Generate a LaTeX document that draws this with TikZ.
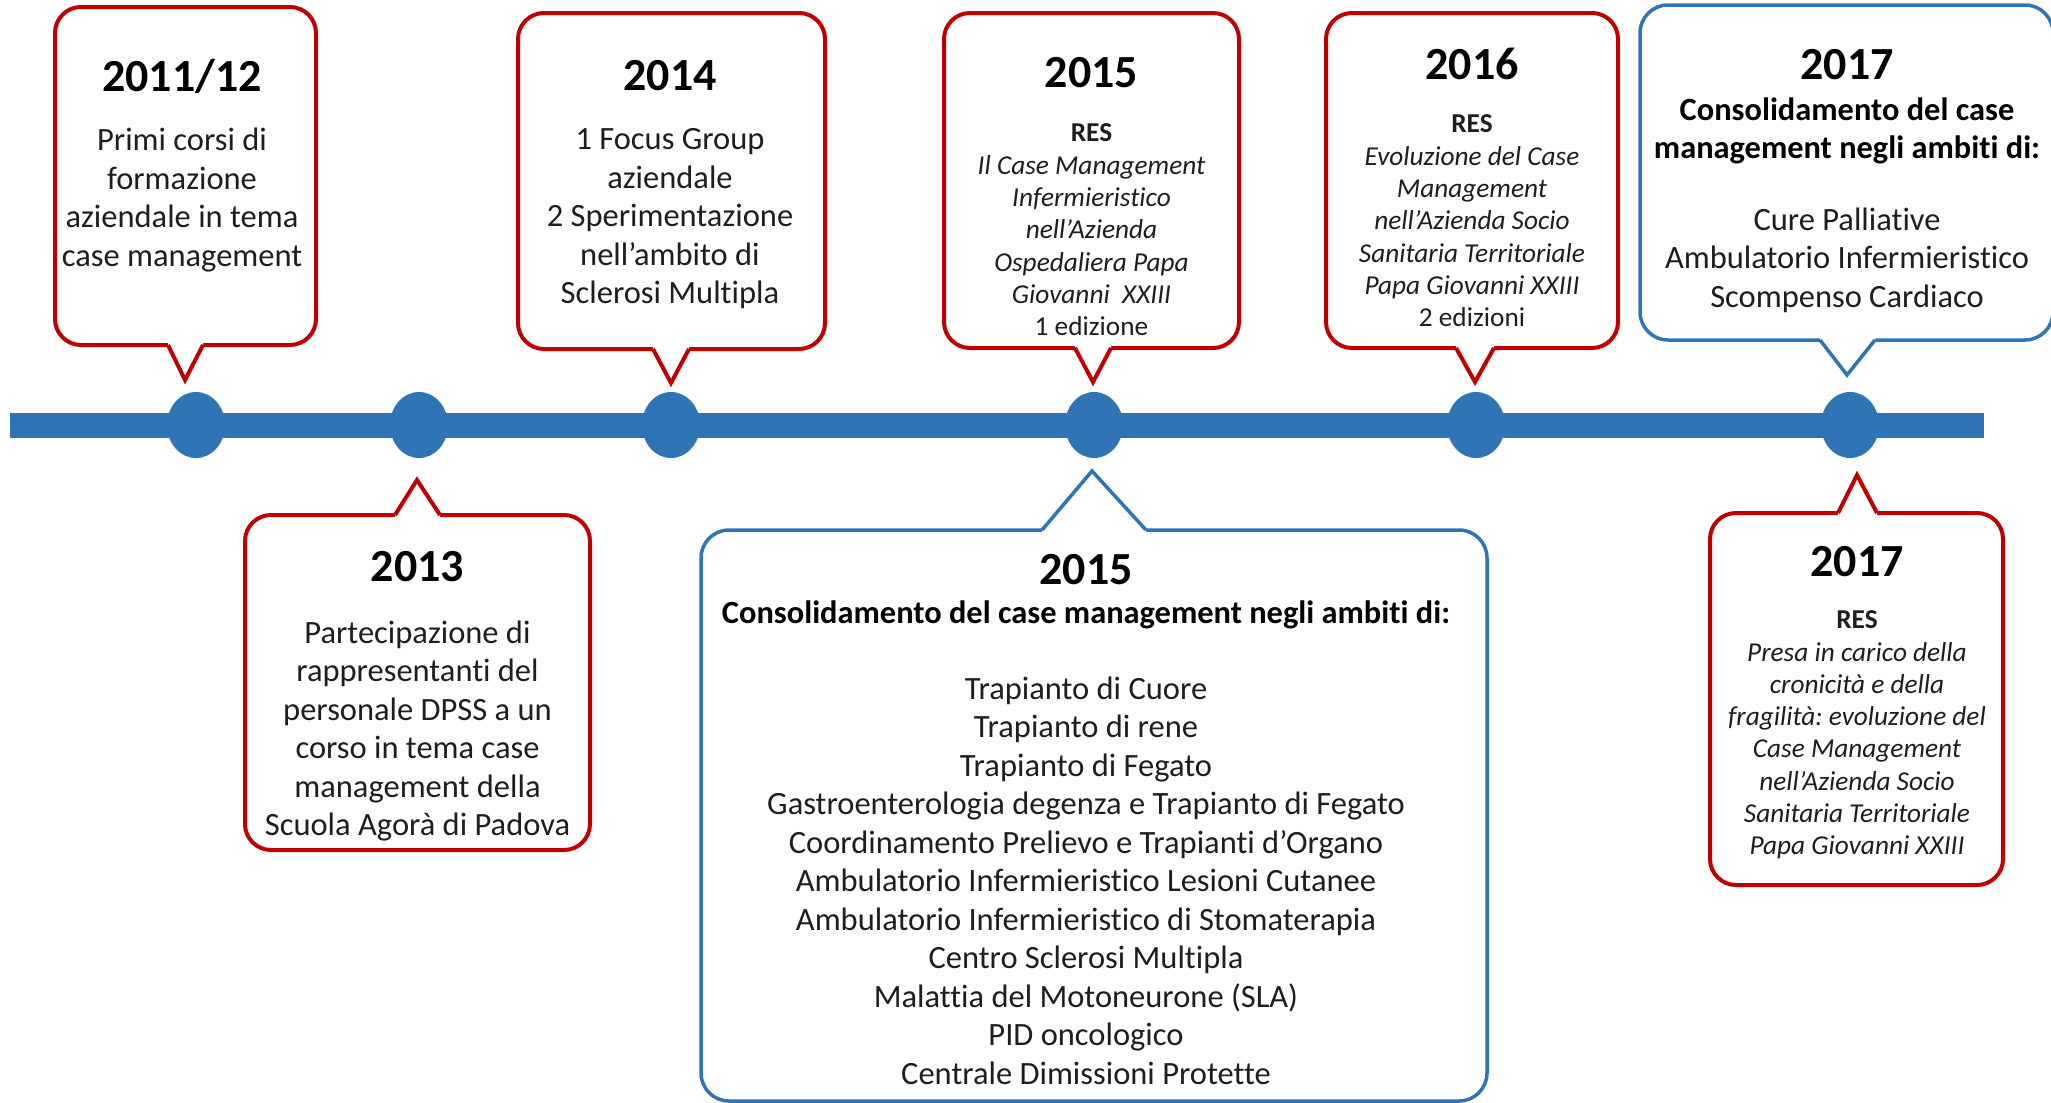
\documentclass[tikz,border=0pt]{standalone}
\usepackage{fontspec}
\setmainfont[Ligatures={NoCommon}]{Carlito}
\usetikzlibrary{shapes.geometric}
\definecolor{myred}{RGB}{192,0,0}
\definecolor{myblue}{RGB}{46,117,182}
\definecolor{barblue}{RGB}{47,117,181}
\definecolor{txt}{RGB}{30,30,30}
\newcommand\fsz[2]{\fontsize{#1}{#2}\selectfont}
\newcommand\mkptr[6]{%
  \fill[white] (#2,#5) -- (#2,#4) -- (#6) -- (#3,#4) -- (#3,#5) -- cycle;
  \draw[#1, line join=miter] (#2,#4) -- (#6) -- (#3,#4);}
\frenchspacing
\begin{document}
\frenchspacing
\begin{tikzpicture}[x=1pt,y=-1pt,
  redbox/.style={draw=myred, line width=4pt, rounded corners=26pt, fill=white, rectangle, inner sep=0pt},
  bluebox/.style={draw=myblue, line width=3.5pt, rounded corners=28pt, fill=white, rectangle, inner sep=0pt},
  redptr/.style={draw=myred, line width=4pt},
  blueptr/.style={draw=myblue, line width=3.5pt},
  tldot/.style={ellipse, fill=barblue, minimum width=58pt, minimum height=66pt, inner sep=0pt},
  yeartext/.style={font=\fsz{46}{50}\bfseries, text=black, inner sep=0pt},
  bodytext/.style={font=\fsz{32.5}{38.5}\frenchspacing, align=center, text=txt, inner sep=0pt},
  smalltext/.style={font=\fsz{27.3}{32.3}\frenchspacing, align=center, text=txt, inner sep=0pt},
  boldtext/.style={font=\fsz{32.4}{38.5}\bfseries\frenchspacing, align=center, text=black, inner sep=0pt},
]
\useasboundingbox (0,0) rectangle (2051,1103);
\fill[white] (0,0) rectangle (2051,1103);

% timeline bar
\coordinate (barL) at (10,425);
\coordinate (barR) at (1984,425);
\draw[barblue, line width=25pt] (barL) -- (barR);

% dots
\node[tldot] (c1) at (196,425) {};
\node[tldot] (c2) at (419,425) {};
\node[tldot] (c3) at (671,425) {};
\node[tldot] (c4) at (1094,425) {};
\node[tldot] (c5) at (1476,425) {};
\node[tldot] (c6) at (1850,425) {};

% boxes
\node[redbox, minimum width=261pt, minimum height=338pt] (b1) at (185.5,176) {};
\coordinate (p1) at (185,380);
\mkptr{redptr}{168}{203}{345}{341}{p1}

\node[redbox, minimum width=307pt, minimum height=336pt] (b2) at (671.5,181) {};
\coordinate (p2) at (671,383);
\mkptr{redptr}{653}{689}{349}{345}{p2}

\node[redbox, minimum width=295pt, minimum height=335pt] (b3) at (1091.5,180.5) {};
\coordinate (p3) at (1093,382);
\mkptr{redptr}{1075}{1111}{348}{344}{p3}

\node[redbox, minimum width=292pt, minimum height=335pt] (b4) at (1472,180.5) {};
\coordinate (p4) at (1475,382);
\mkptr{redptr}{1456}{1494}{348}{344}{p4}

\node[bluebox, minimum width=413pt, minimum height=335pt] (b5) at (1846.5,172.5) {};
\coordinate (p5) at (1847,375);
\mkptr{blueptr}{1820}{1875}{340}{336}{p5}

\node[redbox, minimum width=345pt, minimum height=335pt] (b6) at (417.5,682.5) {};
\coordinate (p6) at (417,480);
\mkptr{redptr}{395}{440}{515}{519}{p6}

\node[bluebox, minimum width=786pt, minimum height=571pt] (b7) at (1094,815.5) {};
\coordinate (p7) at (1092,471);
\mkptr{blueptr}{1042}{1146}{530}{534}{p7}

\node[redbox, minimum width=293pt, minimum height=372pt] (b8) at (1856.5,699) {};
\coordinate (p8) at (1857,475);
\mkptr{redptr}{1838}{1877}{513}{517}{p8}

% texts
\node[yeartext] (y1) at (182,76) {2011/12};
\node[bodytext] (t1) at (182,200) {Primi corsi di\\formazione\\aziendale in tema\\case management};

\node[yeartext] (y2) at (670,76) {2014};
\node[bodytext] (t2) at (670,219) {1 Focus Group\\aziendale\\2 Sperimentazione\\nell’ambito di\\Sclerosi Multipla};

\node[yeartext] (y3) at (1091.5,73) {2015};
\node[smalltext] (t3) at (1091.5,230) {\textbf{RES}\\\textit{Il Case Management}\\\textit{Infermieristico}\\\textit{nell’Azienda}\\\textit{Ospedaliera Papa}\\\textit{Giovanni~ XXIII}\\1 edizione};

\node[yeartext] (y4) at (1472,64) {2016};
\node[smalltext] (t4) at (1472,221) {\textbf{RES}\\\textit{Evoluzione del Case}\\\textit{Management}\\\textit{nell’Azienda Socio}\\\textit{Sanitaria Territoriale}\\\textit{Papa Giovanni XXIII}\\2 edizioni};

\node[yeartext] (y5) at (1847,65) {2017};
\node[boldtext] (h5) at (1847,131) {Consolidamento del case\\management negli ambiti di:};
\node[bodytext] (t5) at (1847,260) {Cure Palliative\\Ambulatorio Infermieristico\\Scompenso Cardiaco};

\node[yeartext] (y6) at (417.5,567) {2013};
\node[bodytext] (t6) at (417.5,731) {Partecipazione di\\rappresentanti del\\personale DPSS a un\\corso in tema case\\management della\\Scuola Agorà di Padova};

\node[yeartext] (y7) at (1086,570) {2015};
\node[boldtext] (h7) at (1086,615) {Consolidamento del case management negli ambiti di:};
\node[bodytext] (t7) at (1086,880.5) {Trapianto di Cuore\\Trapianto di rene\\Trapianto di Fegato\\Gastroenterologia degenza e Trapianto di Fegato\\Coordinamento Prelievo e Trapianti d’Organo\\Ambulatorio Infermieristico Lesioni Cutanee\\Ambulatorio Infermieristico di Stomaterapia\\Centro Sclerosi Multipla\\Malattia del Motoneurone (SLA)\\PID oncologico\\Centrale Dimissioni Protette};

\node[yeartext] (y8) at (1857,562) {2017};
\node[smalltext] (t8) at (1857,735) {\textbf{RES}\\\textit{Presa in carico della}\\\textit{cronicità e della}\\\textit{fragilità: evoluzione del}\\\textit{Case Management}\\\textit{nell’Azienda Socio}\\\textit{Sanitaria Territoriale}\\\textit{Papa Giovanni XXIII}};
\end{tikzpicture}
\end{document}
